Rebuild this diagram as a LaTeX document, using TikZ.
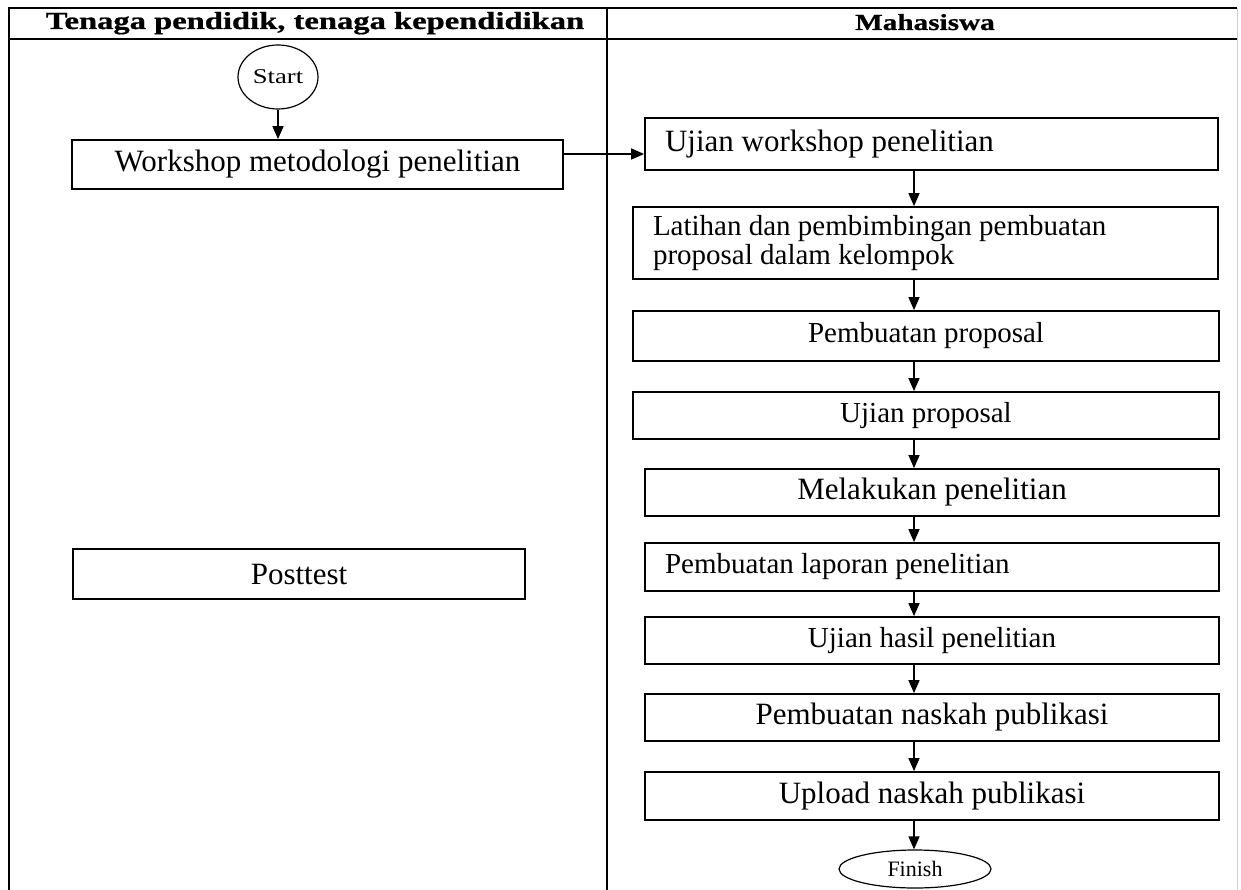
\documentclass[tikz,border=0pt]{standalone}
\usepackage{fontspec}
\setmainfont{Liberation Serif}
\newfontfamily\hdfont{Liberation Serif}[BoldFeatures={FakeBold=0.8}]
\usetikzlibrary{arrows.meta,shapes.geometric}
\begin{document}
\begin{tikzpicture}[x=1pt,y=-1pt,
  box/.style={draw, line width=1.8pt, rectangle, inner sep=0pt, text=black},
  lbox/.style={box, align=flush left, inner xsep=20pt},
  arr/.style={line width=1.5pt, -{Triangle[length=13pt,width=11pt]}},
  big/.style={font=\fontsize{31}{34}\selectfont},
  small/.style={font=\fontsize{29}{28}\selectfont},
  lane/.style={line width=2pt},
  term/.style={draw, ellipse, line width=1.2pt, inner sep=0pt, text=black}]
\useasboundingbox (0,0) rectangle (1241,890);
% lanes
\draw[lane] (9,890) -- (9,8) -- (1237,8);
\draw[lane] (9,39) -- (1237,39);
\draw[lane] (607,8) -- (607,890);
\draw[gray!40, line width=1pt] (1237,8) -- (1237,890);
% headers
\node[anchor=base, inner sep=0pt, font=\hdfont\fontsize{24.5}{27}\selectfont\bfseries] (h1) at (315,29) {\scalebox{1.33}[1]{Tenaga pendidik, tenaga kependidikan}};
\node[anchor=base, inner sep=0pt, font=\hdfont\fontsize{23}{26}\selectfont\bfseries] (h2) at (925,30) {\scalebox{1.27}[1]{Mahasiswa}};
% left lane
\node[term, minimum width=80pt, minimum height=64pt, font=\fontsize{21}{23}\selectfont] (start) at (278,77) {\scalebox{1.27}[1]{Start}};
\node[box, big, minimum width=491pt, minimum height=49pt] (wk) at (317.5,164.5) {Workshop metodologi penelitian};
\node[box, big, minimum width=452pt, minimum height=50pt] (pt) at (299,574) {Posttest};
% right lane
\coordinate (ax) at (914,0);
\node[lbox, big, text width=533pt, minimum width=573pt, minimum height=52pt] (uw) at (931.5,144) {Ujian workshop penelitian};
\node[lbox, font=\fontsize{29}{29.5}\selectfont, text width=545pt, minimum width=585pt, minimum height=72pt] (lat) at (925.5,243) {Latihan dan pembimbingan pembuatan\\proposal dalam kelompok};
\node[box, small, minimum width=586pt, minimum height=50pt] (pp) at (926,336) {Pembuatan proposal};
\node[box, small, minimum width=586pt, minimum height=47pt] (upr) at (926,415.5) {Ujian proposal};
\node[box, big, minimum width=574pt, minimum height=47pt] (mel) at (932,492.5) {Melakukan penelitian};
\node[lbox, small, text width=534pt, minimum width=574pt, minimum height=48pt] (lap) at (932,567) {Pembuatan laporan penelitian};
\node[box, small, minimum width=574pt, minimum height=47pt] (uh) at (932,640.5) {Ujian hasil penelitian};
\node[box, big, minimum width=574pt, minimum height=47pt] (nas) at (932,717.5) {Pembuatan naskah publikasi};
\node[box, big, minimum width=574pt, minimum height=48pt] (upl) at (932,796) {Upload naskah publikasi};
\node[term, minimum width=152pt, minimum height=38pt, font=\fontsize{22}{24}\selectfont] (fin) at (915,869) {Finish};
% connectors
\draw[arr] (start.south) -- (start.south |- wk.north);
\draw[arr] ([yshift=10.5pt]wk.east) -- ([yshift=-10pt]uw.west);
\draw[arr] (uw.south -| ax) -- (lat.north -| ax);
\draw[arr] (lat.south -| ax) -- (pp.north -| ax);
\draw[arr] (pp.south -| ax) -- (upr.north -| ax);
\draw[arr] (upr.south -| ax) -- (mel.north -| ax);
\draw[arr] (mel.south -| ax) -- (lap.north -| ax);
\draw[arr] (lap.south -| ax) -- (uh.north -| ax);
\draw[arr] (uh.south -| ax) -- (nas.north -| ax);
\draw[arr] (nas.south -| ax) -- (upl.north -| ax);
\draw[arr] (upl.south -| ax) -- (fin.north -| ax);
\end{tikzpicture}
\end{document}
